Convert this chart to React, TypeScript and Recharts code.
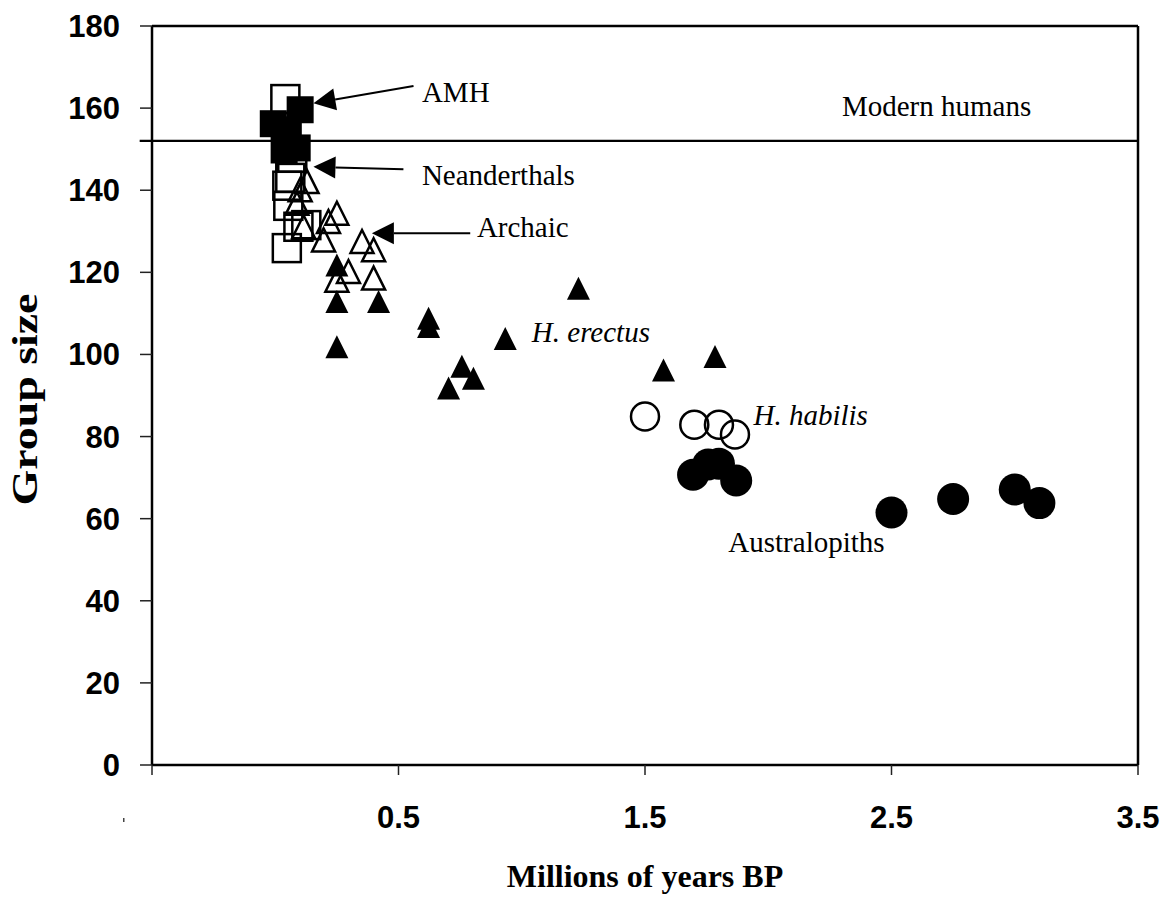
import { ScatterChart, Scatter, XAxis, YAxis, ReferenceLine, ReferenceDot, Label } from 'recharts';

// millions of years BP, group size
const amh: [number, number][] = [
  [-0.008, 156.2], [0.101, 159.6], [0.053, 154.7], [0.036, 149.8], [0.089, 150.3],
];
const neanderthals: [number, number][] = [
  [0.041, 162.2], [0.069, 147.9], [0.061, 143.0], [0.049, 141.1],
  [0.053, 136.2], [0.094, 131.1], [0.126, 131.5], [0.047, 125.9],
];
const archaic: [number, number][] = [
  [0.129, 142.1], [0.101, 140.1], [0.088, 136.8], [0.115, 131.1], [0.25, 134.4],
  [0.216, 132.4], [0.196, 127.9], [0.352, 127.5], [0.399, 125.5], [0.297, 120.2],
  [0.25, 118.1], [0.399, 118.6],
];
const erectus: [number, number][] = [
  [0.25, 121.8], [0.25, 112.9], [0.419, 112.9], [0.25, 101.9], [0.622, 108.8],
  [0.622, 106.8], [0.757, 97.1], [0.804, 94.2], [0.703, 91.8], [0.933, 103.9],
  [1.23, 116.1], [1.575, 96.2], [1.784, 99.5],
];
const habilis: [number, number][] = [
  [1.5, 84.9], [1.7, 82.9], [1.8, 82.9], [1.865, 80.5],
];
const australopiths: [number, number][] = [
  [1.695, 70.7], [1.756, 73.2], [1.8, 73.4], [1.87, 69.3],
  [2.5, 61.5], [2.75, 64.8], [3.0, 67.1], [3.1, 63.8],
];

const modernHumans = 152;
const xTicks = [-0.5, 0.5, 1.5, 2.5, 3.5];
const yTicks = [0, 20, 40, 60, 80, 100, 120, 140, 160, 180];

// text labels and arrows, in data coordinates
const labels = [
  { text: 'AMH', x: 0.595, y: 161.4, italic: false },
  { text: 'Modern humans', x: 2.299, y: 158.1, italic: false },
  { text: 'Neanderthals', x: 0.595, y: 141.3, italic: false },
  { text: 'Archaic', x: 0.818, y: 128.7, italic: false },
  { text: 'H. erectus', x: 1.041, y: 103.1, italic: true },
  { text: 'H. habilis', x: 1.94, y: 82.8, italic: true },
  { text: 'Australopiths', x: 1.838, y: 52.0, italic: false },
];
const arrows = [
  { from: [0.561, 165.4], to: [0.155, 161.2] },
  { from: [0.52, 145.1], to: [0.155, 145.7] },
  { from: [0.791, 129.5], to: [0.392, 129.5] },
];

const toPts = (arr: [number, number][]) => arr.map(([x, y]) => ({ x, y }));

const serif = '"Liberation Serif", "Times New Roman", serif';
const sans = '"Liberation Sans", Arial, sans-serif';

const FilledSquare = (p: any) => (
  <rect x={p.cx - 13.5} y={p.cy - 13.5} width={27} height={27} fill="#000" />
);
const OpenSquare = (p: any) => (
  <rect x={p.cx - 14} y={p.cy - 14} width={28} height={28} fill="none" stroke="#000" strokeWidth={2.5} />
);
const triPts = (cx: number, cy: number) =>
  `${cx},${cy - 11.5} ${cx - 11.5},${cy + 11.5} ${cx + 11.5},${cy + 11.5}`;
const FilledTri = (p: any) => <polygon points={triPts(p.cx, p.cy)} fill="#000" />;
const OpenTri = (p: any) => (
  <polygon points={triPts(p.cx, p.cy)} fill="none" stroke="#000" strokeWidth={2.5} strokeLinejoin="miter" />
);
const FilledCircle = (p: any) => <circle cx={p.cx} cy={p.cy} r={16} fill="#000" />;
const OpenCircle = (p: any) => (
  <circle cx={p.cx} cy={p.cy} r={14} fill="none" stroke="#000" strokeWidth={2.5} />
);

const Arrow = (p: any) => {
  const { x1, y1, x2, y2 } = p;
  const dx = x2 - x1;
  const dy = y2 - y1;
  const len = Math.sqrt(dx * dx + dy * dy) || 1;
  const ux = dx / len;
  const uy = dy / len;
  const bx = x2 - ux * 22;
  const by = y2 - uy * 22;
  const hw = 11;
  return (
    <g>
      <line x1={x1} y1={y1} x2={bx} y2={by} stroke="#000" strokeWidth={2} />
      <polygon
        points={`${x2},${y2} ${bx - uy * hw},${by + ux * hw} ${bx + uy * hw},${by - ux * hw}`}
        fill="#000"
      />
    </g>
  );
};

const XTick = (p: any) => {
  const { x, y, payload } = p;
  if (payload.value === -0.5) {
    return <rect x={x - 29} y={y + 12} width={1.5} height={4} fill="#444" />;
  }
  return (
    <text x={x} y={y} dy="0.71em" textAnchor="middle" fontFamily={sans} fontWeight="bold" fontSize={31} fill="#000">
      {payload.value}
    </text>
  );
};

export default function App() {
  return (
    <ScatterChart width={1160} height={889} margin={{ top: 18, right: 30, left: 0, bottom: 52 }}>
      <XAxis
        type="number"
        dataKey="x"
        domain={[-0.5, 3.5]}
        ticks={xTicks}
        interval={0}
        height={80}
        tickSize={10}
        tickMargin={31}
        axisLine={{ stroke: '#000', strokeWidth: 2.5 }}
        tickLine={{ stroke: '#222', strokeWidth: 1.5 }}
        tick={XTick}
        allowDataOverflow
      >
        <Label
          content={(lp: any) => {
            const vb = lp.viewBox;
            return (
              <text
                x={vb.x + vb.width / 2}
                y={vb.y + 122}
                textAnchor="middle"
                fontFamily={serif}
                fontWeight="bold"
                fontSize={32}
                fill="#000"
              >
                Millions of years BP
              </text>
            );
          }}
        />
      </XAxis>
      <YAxis
        type="number"
        dataKey="y"
        domain={[0, 180]}
        ticks={yTicks}
        interval={0}
        width={144}
        tickSize={12}
        tickMargin={20}
        axisLine={{ stroke: '#000', strokeWidth: 2.5 }}
        tickLine={{ stroke: '#222', strokeWidth: 1.5 }}
        tick={{ fill: '#000', fontFamily: sans, fontWeight: 'bold', fontSize: 31 }}
        allowDataOverflow
      >
        <Label
          content={(lp: any) => {
            const vb = lp.viewBox;
            const cx = vb.x + 29;
            const cy = vb.y + vb.height / 2 + 4;
            return (
              <text
                x={cx}
                y={cy}
                transform={`rotate(-90, ${cx}, ${cy})`}
                textAnchor="middle"
                fontFamily={serif}
                fontWeight="bold"
                fontSize={35}
                textLength={212}
                lengthAdjust="spacingAndGlyphs"
                fill="#000"
              >
                Group size
              </text>
            );
          }}
        />
      </YAxis>

      <ReferenceLine y={180} stroke="#000" strokeWidth={2.5} />
      <ReferenceLine x={3.5} stroke="#000" strokeWidth={2.5} />
      <ReferenceLine
        segment={[{ x: -0.55, y: modernHumans }, { x: 3.5, y: modernHumans }]}
        stroke="#000"
        strokeWidth={2.2}
        ifOverflow="visible"
      />

      <Scatter data={toPts(archaic)} shape={OpenTri} isAnimationActive={false} />
      <Scatter data={toPts(neanderthals)} shape={OpenSquare} isAnimationActive={false} />
      <Scatter data={toPts(amh)} shape={FilledSquare} isAnimationActive={false} />
      <Scatter data={toPts(erectus)} shape={FilledTri} isAnimationActive={false} />
      <Scatter data={toPts(habilis)} shape={OpenCircle} isAnimationActive={false} />
      <Scatter data={toPts(australopiths)} shape={FilledCircle} isAnimationActive={false} />

      {arrows.map((a, i) => (
        <ReferenceLine
          key={'a' + i}
          segment={[{ x: a.from[0], y: a.from[1] }, { x: a.to[0], y: a.to[1] }]}
          ifOverflow="visible"
          shape={Arrow}
        />
      ))}
      {labels.map((l) => (
        <ReferenceDot
          key={l.text}
          x={l.x}
          y={l.y}
          r={0}
          ifOverflow="visible"
          shape={(p: any) => (
            <text
              x={p.cx}
              y={p.cy}
              fontFamily={serif}
              fontStyle={l.italic ? 'italic' : 'normal'}
              fontSize={29}
              fill="#000"
            >
              {l.text}
            </text>
          )}
        />
      ))}
    </ScatterChart>
  );
}
